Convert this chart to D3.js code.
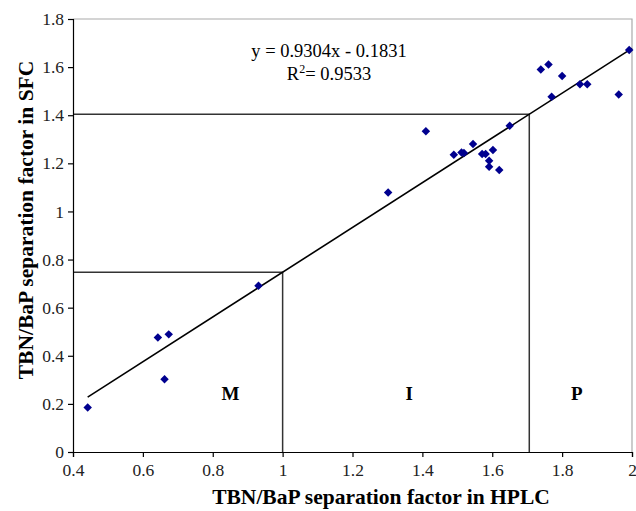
<!DOCTYPE html>
<html>
<head>
<meta charset="utf-8">
<script src="https://cdn.jsdelivr.net/npm/d3@7"></script>
<style>
  body { margin: 0; background: #fff; }
  svg text { font-family: "Liberation Serif", "DejaVu Serif", serif; }
</style>
</head>
<body>
<svg id="chart" width="636" height="511"></svg>
<script>
    var w = 636;
    var h = 511;

    // data
    var hplc = [0.442, 0.643, 0.674, 0.662, 0.931, 1.302, 1.410, 1.490, 1.512, 1.519,
                1.545, 1.571, 1.581, 1.602, 1.591, 1.591, 1.620, 1.650, 1.739, 1.761,
                1.770, 1.800, 1.851, 1.872, 1.962, 1.992];
    var sfc  = [0.185, 0.476, 0.489, 0.302, 0.691, 1.079, 1.333, 1.236, 1.245, 1.243,
                1.280, 1.239, 1.239, 1.255, 1.211, 1.186, 1.172, 1.356, 1.590, 1.611,
                1.477, 1.563, 1.529, 1.529, 1.486, 1.671];
    var xTicks = [0.4, 0.6, 0.8, 1, 1.2, 1.4, 1.6, 1.8, 2];
    var yTicks = [0, 0.2, 0.4, 0.6, 0.8, 1, 1.2, 1.4, 1.6, 1.8];
    var slope = 0.9304;
    var intercept = -0.1831;
    var cutoffs = [1.0, 1.706];          // HPLC values of the region borders
    var regions = ["M", "I", "P"];
    var regionX = [0.851, 1.362, 1.842];

    var plotL = 73, plotR = 632, plotT = 19, plotB = 452;

    var x = d3.scaleLinear().domain([0.4, 2]).range([plotL, plotR]);
    var y = d3.scaleLinear().domain([0, 1.8]).range([plotB, plotT]);
    var fit = function(v) { return slope * v + intercept; };

    var vis = d3.select("#chart");

    // frame top + right (grey)
    vis.append("path")
        .attr("d", "M" + plotL + "," + plotT + "H" + plotR + "V" + plotB)
        .attr("fill", "none")
        .attr("stroke", "#aaa")
        .attr("stroke-width", 1.2);

    // region border lines
    cutoffs.forEach(function(c) {
        vis.append("path")
            .attr("d", "M" + x(0.4) + "," + y(fit(c)) + "H" + x(c) + "V" + y(0))
            .attr("fill", "none")
            .attr("stroke", "#333")
            .attr("stroke-width", 1.5);
    });

    // axes
    var xAxis = vis.append("g")
        .attr("transform", "translate(0," + plotB + ")")
        .call(d3.axisBottom(x).tickValues(xTicks).tickFormat(d3.format("")).tickSize(5).tickPadding(7));
    var yAxis = vis.append("g")
        .attr("transform", "translate(" + plotL + ",0)")
        .call(d3.axisLeft(y).tickValues(yTicks).tickFormat(d3.format("")).tickSize(5).tickPadding(4));

    [xAxis, yAxis].forEach(function(a) {
        a.selectAll("path, line").attr("stroke", "#000").attr("stroke-width", 1.2);
        a.selectAll("text")
            .attr("fill", "#222")
            .style("font-size", "17.5px")
            .style("font-family", "Liberation Serif, serif");
    });

    // regression line
    var x0 = d3.min(hplc);
    vis.append("line")
        .attr("x1", x(x0)).attr("y1", y(fit(x0)))
        .attr("x2", x(2)).attr("y2", y(fit(2)))
        .attr("stroke", "#000")
        .attr("stroke-width", 1.6);

    // points
    var pts = hplc.map(function(d, i) { return [d, sfc[i]]; });
    vis.selectAll("rect.pt")
        .data(pts)
        .enter()
        .append("rect")
        .attr("class", "pt")
        .attr("x", -3).attr("y", -3)
        .attr("width", 6).attr("height", 6)
        .attr("transform", function(d) { return "translate(" + x(d[0]) + "," + y(d[1]) + ") rotate(45)"; })
        .attr("fill", "#00008f");

    // equation
    vis.append("text")
        .attr("x", 329).attr("y", 57)
        .attr("text-anchor", "middle")
        .style("font-size", "18.5px")
        .text("y = " + slope + "x - " + Math.abs(intercept));
    var r2 = vis.append("text")
        .attr("x", 329).attr("y", 80)
        .attr("text-anchor", "middle")
        .style("font-size", "18.5px");
    r2.append("tspan").text("R");
    r2.append("tspan").attr("dy", -7).style("font-size", "12px").text("2");
    r2.append("tspan").attr("dy", 7).text("= 0.9533");

    // region labels
    vis.selectAll("text.region")
        .data(regions)
        .enter()
        .append("text")
        .attr("class", "region")
        .attr("x", function(d, i) { return x(regionX[i]); })
        .attr("y", y(0.218))
        .attr("text-anchor", "middle")
        .style("font-size", "19px")
        .style("font-weight", "bold")
        .text(function(d) { return d; });

    // axis titles
    vis.append("text")
        .attr("x", 381).attr("y", 504)
        .attr("text-anchor", "middle")
        .style("font-size", "21.5px")
        .style("font-weight", "bold")
        .text("TBN/BaP separation factor in HPLC");

    vis.append("text")
        .attr("transform", "translate(33,220) rotate(-90)")
        .attr("text-anchor", "middle")
        .style("font-size", "21.5px")
        .style("font-weight", "bold")
        .text("TBN/BaP separation factor in SFC");
</script>
</body>
</html>
